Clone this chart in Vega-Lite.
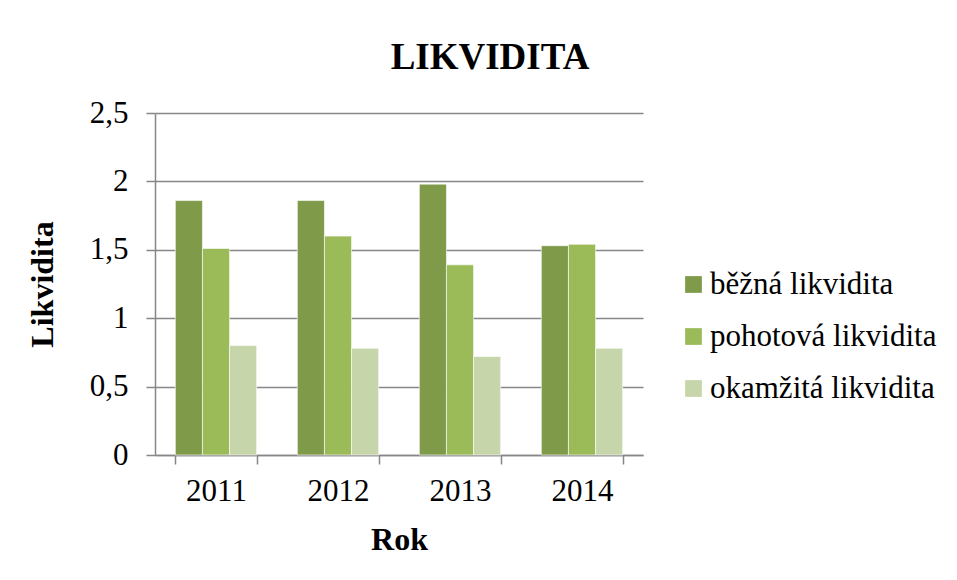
{
  "$schema": "https://vega.github.io/schema/vega-lite/v6.json",
  "width": 488,
  "height": 342,
  "autosize": {"type": "none"},
  "padding": {"left": 155, "top": 113, "right": 314, "bottom": 125},
  "background": "white",
  "title": {
    "text": "LIKVIDITA",
    "font": "Times New Roman, Liberation Serif, serif",
    "fontSize": 37,
    "fontWeight": "bold",
    "color": "black",
    "anchor": "middle",
    "dx": 91,
    "offset": 20
  },
  "data": {
    "values": [
      {"rok": "2011", "typ": "běžná likvidita", "hodnota": 1.86},
      {"rok": "2011", "typ": "pohotová likvidita", "hodnota": 1.51},
      {"rok": "2011", "typ": "okamžitá likvidita", "hodnota": 0.80},
      {"rok": "2012", "typ": "běžná likvidita", "hodnota": 1.86},
      {"rok": "2012", "typ": "pohotová likvidita", "hodnota": 1.60},
      {"rok": "2012", "typ": "okamžitá likvidita", "hodnota": 0.78},
      {"rok": "2013", "typ": "běžná likvidita", "hodnota": 1.98},
      {"rok": "2013", "typ": "pohotová likvidita", "hodnota": 1.39},
      {"rok": "2013", "typ": "okamžitá likvidita", "hodnota": 0.72},
      {"rok": "2014", "typ": "běžná likvidita", "hodnota": 1.53},
      {"rok": "2014", "typ": "pohotová likvidita", "hodnota": 1.54},
      {"rok": "2014", "typ": "okamžitá likvidita", "hodnota": 0.78}
    ]
  },
  "mark": {"type": "bar", "stroke": "white", "strokeWidth": 1, "strokeOpacity": 0.6},
  "encoding": {
    "x": {
      "field": "rok",
      "type": "nominal",
      "scale": {"paddingInner": 0.3333, "paddingOuter": 0.1667},
      "axis": {
        "title": "Rok",
        "labelAngle": 0,
        "tickBand": "extent",
        "tickSize": 9,
        "labelPadding": 12,
        "titlePadding": 18,
        "grid": false
      }
    },
    "xOffset": {
      "field": "typ",
      "type": "nominal",
      "sort": ["běžná likvidita", "pohotová likvidita", "okamžitá likvidita"]
    },
    "y": {
      "field": "hodnota",
      "type": "quantitative",
      "scale": {"domain": [0, 2.5], "nice": false},
      "axis": {
        "title": "Likvidita",
        "values": [0, 0.5, 1, 1.5, 2, 2.5],
        "labelExpr": "replace(format(datum.value, '~g'), '.', ',')",
        "tickSize": 9,
        "labelPadding": 18,
        "titlePadding": 30,
        "grid": true
      }
    },
    "color": {
      "field": "typ",
      "type": "nominal",
      "sort": ["běžná likvidita", "pohotová likvidita", "okamžitá likvidita"],
      "scale": {
        "domain": ["běžná likvidita", "pohotová likvidita", "okamžitá likvidita"],
        "range": ["#7F9A48", "#9BBB59", "#C6D6AA"]
      },
      "legend": {
        "title": null,
        "orient": "none",
        "legendX": 523,
        "legendY": 156,
        "symbolType": "square",
        "symbolSize": 280,
        "symbolStrokeWidth": 0,
        "labelOffset": 1,
        "rowPadding": 20,
        "labelFont": "Times New Roman, Liberation Serif, serif",
        "labelFontSize": 31,
        "labelColor": "black",
        "labelLimit": 400
      }
    }
  },
  "config": {
    "view": {"stroke": null},
    "axis": {
      "labelFont": "Times New Roman, Liberation Serif, serif",
      "labelFontSize": 31,
      "labelColor": "black",
      "titleFont": "Times New Roman, Liberation Serif, serif",
      "titleFontSize": 32,
      "titleFontWeight": "bold",
      "titleColor": "black",
      "domainColor": "#878787",
      "domainWidth": 1.5,
      "tickColor": "#878787",
      "tickWidth": 1.5,
      "gridColor": "#878787",
      "gridWidth": 1.5,
      "gridOpacity": 1
    }
  }
}
